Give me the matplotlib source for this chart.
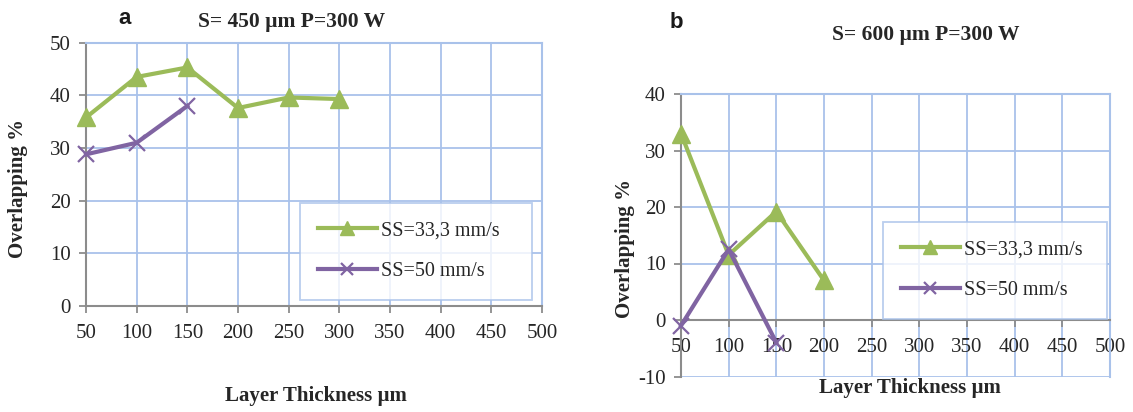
import matplotlib
matplotlib.use("Agg")
import matplotlib.pyplot as plt
from matplotlib.lines import Line2D

plt.rcParams["font.family"] = ["Liberation Serif", "DejaVu Serif"]
plt.rcParams["axes.unicode_minus"] = False

# ---- data ----
thickness_ticks = [50, 100, 150, 200, 250, 300, 350, 400, 450, 500]

a_x_green = [50, 100, 150, 200, 250, 300]
a_y_green = [35.8, 43.5, 45.3, 37.6, 39.6, 39.3]
a_x_purple = [50, 100, 150]
a_y_purple = [28.8, 31.0, 38.0]

b_x_green = [50, 100, 150, 200]
b_y_green = [33.0, 11.5, 19.2, 7.0]
b_x_purple = [50, 100, 150]
b_y_purple = [-1.0, 12.5, -4.0]

label_green = "SS=33,3 mm/s"
label_purple = "SS=50 mm/s"
title_a = "S= 450 µm P=300 W"
title_b = "S= 600 µm P=300 W"
xlabel = "Layer Thickness µm"
ylabel = "Overlapping %"

GREEN = "#9BBB59"
PURPLE = "#8064A2"
GRID = "#A9C2EA"
AXGREY = "#8C8C8C"
TXT = "#262626"
SERIF = "Liberation Serif"

W, H = 1133, 412
fig = plt.figure(figsize=(W / 100, H / 100), dpi=100)


def fx(px):
    return px / W


def fy(py):
    return 1 - py / H


def style_axes(ax, ymin, ymax, yticks):
    ax.set_xlim(50, 500)
    ax.set_ylim(ymin, ymax)
    ax.set_xticks(thickness_ticks)
    ax.set_yticks(yticks)
    ax.grid(True, color=GRID, linewidth=1.3)
    ax.set_axisbelow(True)
    for s in ("top", "right"):
        ax.spines[s].set_color(GRID)
        ax.spines[s].set_linewidth(1.5)
    ax.spines["left"].set_color(AXGREY)
    ax.spines["left"].set_linewidth(1.5)
    ax.spines["bottom"].set_color(AXGREY)
    ax.spines["bottom"].set_linewidth(1.5)
    ax.tick_params(axis="both", direction="out", length=5, width=1.3,
                   color=AXGREY, labelcolor=TXT, labelsize=15)
    ax.tick_params(axis="x", pad=8)
    ax.tick_params(axis="y", pad=6)


def plot_series(ax, xg, yg, xp, yp):
    ax.plot(xg, yg, color=GREEN, linewidth=3, marker="^", markersize=13,
            clip_on=False, zorder=3)
    ax.plot(xp, yp, color=PURPLE, linewidth=3, marker="x", markersize=11,
            markeredgewidth=1.6, clip_on=False, zorder=4)


def add_legend(x0, y0, x1, y1):
    handles = [
        Line2D([], [], color=GREEN, linewidth=3, marker="^", markersize=10),
        Line2D([], [], color=PURPLE, linewidth=3, marker="x", markersize=9,
               markeredgewidth=1.6),
    ]
    leg = fig.legend(handles, [label_green, label_purple],
                     loc="upper left",
                     bbox_to_anchor=(fx(x0), fy(y1), fx(x1) - fx(x0), fy(y0) - fy(y1)),
                     mode="expand", fancybox=False, frameon=True,
                     prop={"family": SERIF, "size": 14.5},
                     handlelength=2.9, handletextpad=0.2, labelspacing=1.1,
                     borderpad=0.9, borderaxespad=0)
    leg.get_frame().set_edgecolor(GRID)
    leg.get_frame().set_linewidth(1.3)
    for t in leg.get_texts():
        t.set_color(TXT)


# ---- panel a ----
axa = fig.add_axes([fx(86), fy(306), fx(542) - fx(86), fy(42.7) - fy(306)])
plot_series(axa, a_x_green, a_y_green, a_x_purple, a_y_purple)
style_axes(axa, 0, 50, [0, 10, 20, 30, 40, 50])
add_legend(300, 203, 532, 292)

# ---- panel b ----
axb = fig.add_axes([fx(681), fy(376.5), fx(1110) - fx(681), fy(94) - fy(376.5)])
plot_series(axb, b_x_green, b_y_green, b_x_purple, b_y_purple)
style_axes(axb, -10, 40, [-10, 0, 10, 20, 30, 40])
axb.spines["bottom"].set_position(("data", 0))
add_legend(883, 222, 1107, 302)

# ---- texts ----
bold_serif = {"family": SERIF, "weight": "bold", "color": TXT}
fig.text(fx(292), fy(22), title_a, ha="center", va="center", fontsize=15.5, **bold_serif)
fig.text(fx(926), fy(35), title_b, ha="center", va="center", fontsize=15.5, **bold_serif)
fig.text(fx(125), fy(18), "a", ha="center", va="center", fontsize=16,
         family="Liberation Sans", weight="bold", color="#1a1a1a")
fig.text(fx(676), fy(22), "b", ha="center", va="center", fontsize=16,
         family="Liberation Sans", weight="bold", color="#1a1a1a")
fig.text(fx(316), fy(396), xlabel, ha="center", va="center", fontsize=15, **bold_serif)
fig.text(fx(910), fy(388), xlabel, ha="center", va="center", fontsize=15, **bold_serif)
fig.text(fx(18), fy(188), ylabel, ha="center", va="center", rotation=90, fontsize=15, **bold_serif)
fig.text(fx(625), fy(248), ylabel, ha="center", va="center", rotation=90, fontsize=15, **bold_serif)

fig.savefig("out.png", dpi=100)
